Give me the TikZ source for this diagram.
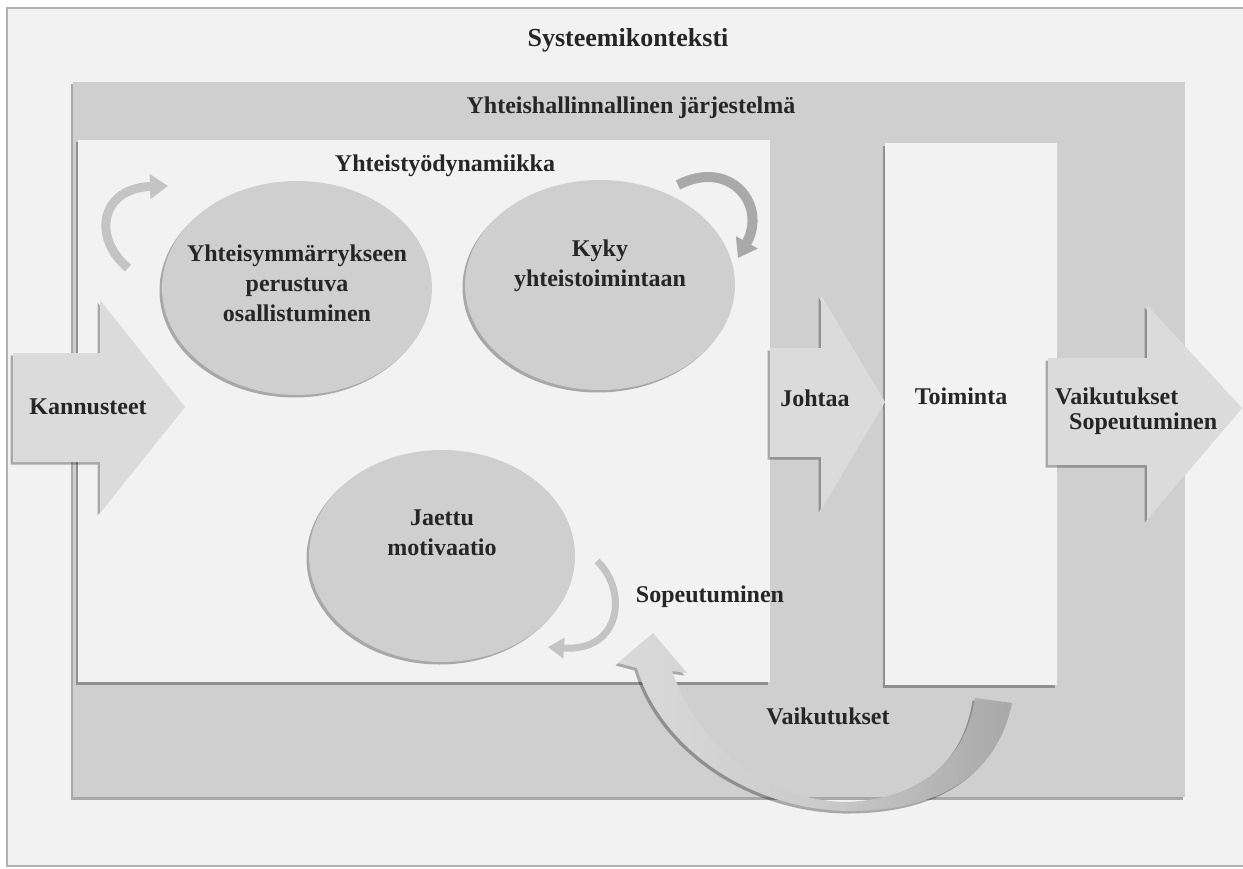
\documentclass[tikz,border=0pt]{standalone}
\usepackage{fontspec}
\setmainfont{Liberation Serif}
\usetikzlibrary{shapes.geometric,shadows,arrows.meta}
\definecolor{bg}{HTML}{F2F2F2}
\definecolor{sys}{HTML}{D0CFD0}
\definecolor{blk}{HTML}{DBDBDB}
\definecolor{txt}{HTML}{262626}
\definecolor{arrL}{HTML}{C4C4C4}
\definecolor{arrD}{HTML}{A9A9A9}
\definecolor{bigL}{HTML}{DADADA}
\definecolor{bigD}{HTML}{A8A8A8}
\begin{document}
\begin{tikzpicture}[x=1pt,y=-1pt,
  shd/.style={drop shadow={shadow xshift=-2.5pt,shadow yshift=-2.5pt,opacity=0.3,fill=black}},
  lbl/.style={font=\fontsize{24}{30}\selectfont\bfseries,text=txt,align=center,inner sep=0pt},
  circ/.style={ellipse,fill=sys,shd,inner sep=0pt},
  blockarrow/.style={fill=blk,shd},
  cyc/.style={line cap=butt}]
\useasboundingbox (0,0) rectangle (1243,869);
\fill[white] (0,0) rectangle (1243,869);
% outer context
\path[fill=bg,draw=gray!60,line width=1.2pt] (7,8) rectangle (1275,866);
\node[lbl,font=\fontsize{26}{30}\selectfont\bfseries] (sysn) at (628,40) {Systeemikonteksti};
% governance system
\path[fill=sys,shd] (73,82) rectangle (1185,797);
\node[lbl] (gov) at (631,108) {Yhteishallinnallinen järjestelmä};
% collaboration dynamics
\path[fill=bg,shd] (78,140) rectangle (770,682);
\node[lbl] (dyn) at (445,166) {Yhteistyödynamiikka};
% action box
\node[fill=bg,shd,minimum width=172pt,minimum height=542pt,inner sep=0pt,anchor=north west] (toimbox) at (885,143) {};
\node[lbl] (toim) at (961,396) {Toiminta};
% circles
\node[circ,minimum width=270pt,minimum height=214pt] (c1) at (297,288) {};
\node[circ,minimum width=270pt,minimum height=210pt] (c2) at (600,285) {};
\node[circ,minimum width=266pt,minimum height=212pt] (c3) at (442,556) {};
\node[lbl] (t1) at (297,283) {Yhteisymmärrykseen\\perustuva\\osallistuminen};
\node[lbl] (t2) at (600,266) {Kyky\\yhteistoimintaan};
\node[lbl] (t3) at (442,533) {Jaettu\\motivaatio};
% block arrows
\path[blockarrow] (13,353) -- (100,353) -- (100,300) -- (185,407) -- (100,513) -- (100,462) -- (13,462) -- cycle;
\node[lbl] (kann) at (88,407) {Kannusteet};
\path[blockarrow] (770,348) -- (821,348) -- (821,295) -- (885,402) -- (821,510) -- (821,457) -- (770,457) -- cycle;
\node[lbl] (joht) at (815,398) {Johtaa};
\path[blockarrow] (1048,358) -- (1147,358) -- (1147,305) -- (1242,408) -- (1147,520) -- (1147,465) -- (1048,465) -- cycle;
\node[lbl,anchor=west] (vs1) at (1055,396) {Vaikutukset};
\node[lbl,anchor=west] (vs2) at (1069,424) {Sopeutuminen};
% small cycle arrows
\coordinate (a1s) at (128,268);
\coordinate (a1e) at (168,186);
\draw[cyc,arrL,line width=9pt,-{Triangle[width=24pt,length=18pt]}] (a1s) .. controls (92,238) and (100,188) .. (a1e);
\coordinate (a2s) at (678,185);
\coordinate (a2e) at (738,258);
\draw[cyc,arrD,line width=10pt,-{Triangle[width=24pt,length=18pt]}] (a2s) .. controls (730,158) and (768,205) .. (a2e);
\coordinate (a3s) at (597,561);
\coordinate (a3e) at (548,647);
\draw[cyc,arrL,line width=7pt,-{Triangle[width=20pt,length=16pt]}] (a3s) .. controls (628,590) and (622,652) .. (a3e);
\node[lbl] (sop) at (710,597) {Sopeutuminen};
% big feedback arrow
\path[shd,left color=bigL,right color=bigD,middle color=bigL!70!bigD]
  (1012,703) .. controls (995,785) and (925,812) .. (845,811)
  .. controls (745,808) and (660,745) .. (637,668)
  -- (618,663) -- (653,633) -- (687,673) -- (672,671)
  .. controls (698,745) and (765,800) .. (845,802)
  .. controls (920,800) and (966,760) .. (975,698) -- cycle;
\node[lbl] (vaik) at (828,716) {Vaikutukset};
\end{tikzpicture}
\end{document}
